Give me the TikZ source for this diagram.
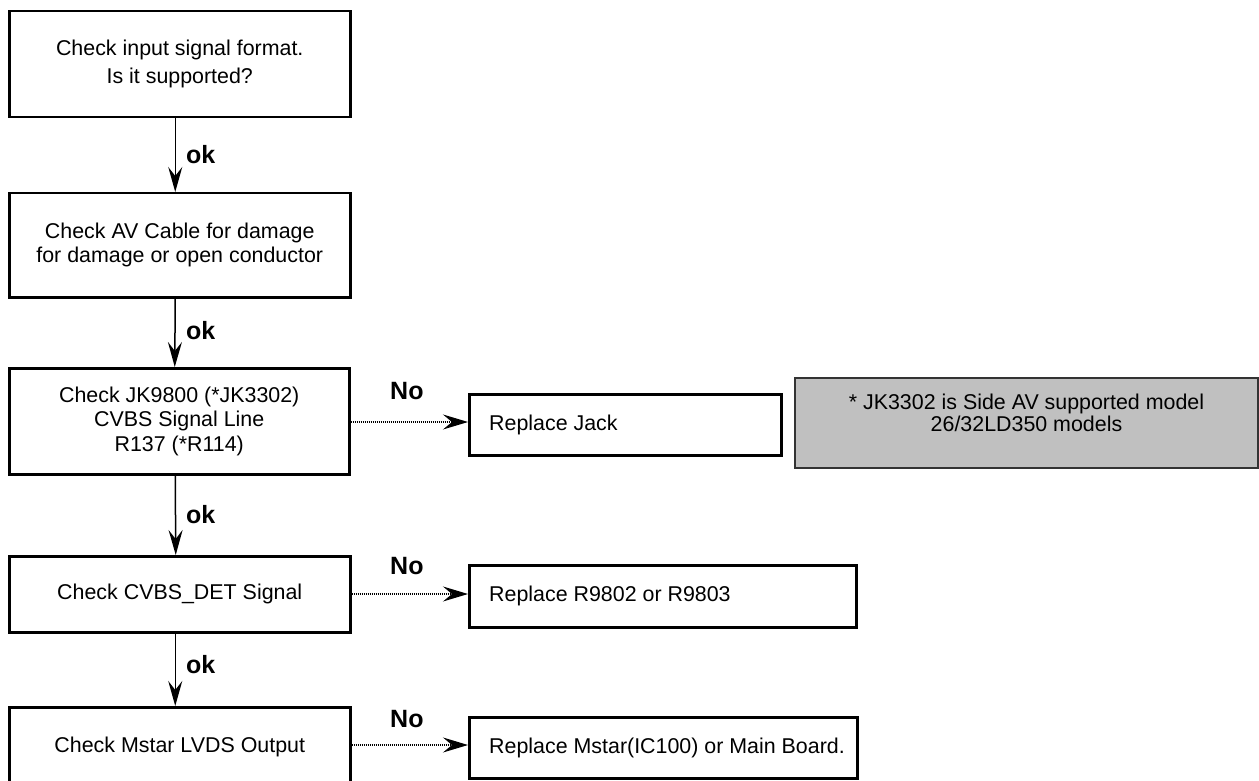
\documentclass[tikz,border=0pt]{standalone}
\usepackage{fontspec}
\setmainfont{Liberation Sans}
\usetikzlibrary{arrows.meta}
\definecolor{notegray}{HTML}{C0C0C0}
\begin{document}
\begin{tikzpicture}[x=1pt,y=-1pt,
  box/.style={draw,line width=2.5pt,inner sep=0pt,anchor=north west,align=center,
    font=\fontsize{21.4}{24.5}\selectfont},
  rtext/.style={anchor=west,inner sep=0pt,font=\fontsize{21.4}{24.5}\selectfont},
  lab/.style={anchor=west,inner sep=0pt,font=\fontsize{25}{28}\selectfont\bfseries},
  varrow/.style={line width=1.5pt,-{Stealth[length=25pt,width=14pt,inset=9pt]}},
  harrow/.style={line width=1.2pt,dash pattern=on 1pt off 1pt,
    -{Stealth[length=25pt,width=15pt,inset=9pt]}}]
\useasboundingbox (0,0) rectangle (1259,781);
\clip (0,0) rectangle (1259,781);
% main column
\node[box,minimum width=341pt,minimum height=106pt,font=\fontsize{21.4}{28}\selectfont] (b1) at (8,10)
  {Check input signal format.\\Is it supported?};
\node[box,minimum width=341pt,minimum height=104pt,font=\fontsize{21.4}{24}\selectfont] (b2) at (8,192)
  {Check AV Cable for damage\\for damage or open conductor};
\node[box,minimum width=340pt,minimum height=106pt] (b3) at (8,367)
  {Check JK9800 (*JK3302)\\CVBS Signal Line\\R137 (*R114)};
\node[box,minimum width=341pt,minimum height=76pt] (b4) at (8,555)
  {Check CVBS\_DET Signal};
\node[box,minimum width=341pt,minimum height=80pt] (b5) at (8,706)
  {Check Mstar LVDS Output};
% right boxes
\node[box,minimum width=312pt,minimum height=61pt] (r1) at (468,393) {};
\node[rtext] (r1t) at ([xshift=21pt]r1.west) {Replace Jack};
\node[box,minimum width=387pt,minimum height=62pt] (r2) at (468,564) {};
\node[rtext] (r2t) at ([xshift=21pt]r2.west) {Replace R9802 or R9803};
\node[box,minimum width=388pt,minimum height=61pt] (r3) at (468,716) {};
\node[rtext] (r3t) at ([xshift=21pt]r3.west) {Replace Mstar(IC100) or Main Board.};
\node[box,fill=notegray,line width=2pt,draw=black!80,minimum width=463pt,minimum height=90pt] (note) at (794,377) {};
\node[inner sep=0pt,align=center,font=\fontsize{21.4}{22}\selectfont] (notet) at ([yshift=10pt]note.center)
  {* JK3302 is Side AV supported model\\26/32LD350 models};
% vertical arrows
\draw[varrow] ([xshift=-4.5pt]b1.south) -- ([xshift=-4.5pt]b2.north);
\draw[varrow] ([xshift=-4.5pt]b2.south) -- ([xshift=-4.5pt]b3.north);
\draw[varrow] ([xshift=-4pt]b3.south) -- ([xshift=-4pt]b4.north);
\draw[varrow] ([xshift=-4.5pt]b4.south) -- ([xshift=-4.5pt]b5.north);
\node[lab] (ok1) at (186,155) {ok};
\node[lab] (ok2) at (186,331) {ok};
\node[lab] (ok3) at (186,515) {ok};
\node[lab] (ok4) at (186,665) {ok};
% horizontal arrows
\coordinate (h1) at (468,422);
\coordinate (h2) at (468,594);
\coordinate (h3) at (468,745);
\draw[harrow] (h1 -| b3.east) -- (h1);
\draw[harrow] (h2 -| b4.east) -- (h2);
\draw[harrow] (h3 -| b5.east) -- (h3);
\node[lab] (no1) at (390,391) {No};
\node[lab] (no2) at (390,566) {No};
\node[lab] (no3) at (390,719) {No};
\end{tikzpicture}
\end{document}
